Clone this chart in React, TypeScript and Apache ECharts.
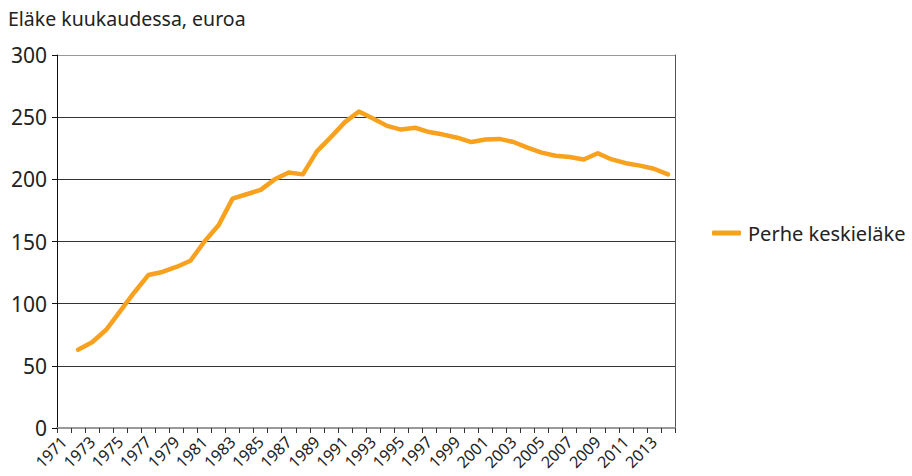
import React, { useEffect, useRef } from "react";
import * as echarts from "echarts";

const years: string[] = [];
for (let y = 1971; y <= 2014; y++) years.push(String(y));

const perheKeskielake: (number | null)[] = [
  null, 63, 69, 79, 94, 109, 123, 125.5, 129.5, 134.5,
  150, 163, 184.5, 188, 191.5, 200, 205.5, 204,
  222.5, 234, 246, 254.5, 249, 243, 240, 241.5,
  238, 236, 233.5, 230, 232, 232.5, 230, 225.5,
  221.5, 219, 218, 216, 221, 216, 213, 211, 208.5, 204,
];

const FONT = "'Noto Sans', 'DejaVu Sans', sans-serif";

export default function App() {
  const ref = useRef<HTMLDivElement>(null);
  useEffect(() => {
    if (!ref.current) return;
    const chart = echarts.init(ref.current, null, { renderer: "svg" });
    chart.setOption({
      animation: false,
      backgroundColor: "#ffffff",
      textStyle: { fontFamily: FONT },
      title: {
        text: "Eläke kuukaudessa, euroa",
        left: 3,
        top: 3,
        textStyle: { fontFamily: FONT, fontSize: 19.5, fontWeight: "normal", color: "#222" },
      },
      grid: { left: 57, right: 237, top: 55, bottom: 48, containLabel: false },
      legend: {
        data: ["Perhe keskieläke"],
        left: 707,
        top: 218,
        itemWidth: 29,
        itemHeight: 5,
        itemGap: 8,
        icon: "roundRect",
        textStyle: { fontFamily: FONT, fontSize: 20, color: "#222", padding: [0, 0, 0, 2] },
      },
      xAxis: {
        type: "category",
        data: years,
        boundaryGap: true,
        axisLine: { show: true, lineStyle: { color: "#999", width: 2 } },
        axisTick: { show: true, interval: 0, length: 5, lineStyle: { color: "#333" } },
        axisLabel: {
          interval: 1,
          rotate: 45,
          fontFamily: FONT,
          fontSize: 16,
          color: "#222",
          margin: 11,
        },
      },
      yAxis: [
        {
          type: "value",
          min: 0,
          max: 300,
          interval: 50,
          axisLine: { show: true, lineStyle: { color: "#111", width: 1 } },
          axisTick: { show: true, length: 5, lineStyle: { color: "#111" } },
          axisLabel: { fontFamily: FONT, fontSize: 21, color: "#222", margin: 10 },
          splitLine: {
            show: true,
            lineStyle: { color: ["#999", "#333", "#333", "#333", "#333", "#333", "#999"], width: 1 },
          },
        },
        {
          type: "value",
          position: "right",
          min: 0,
          max: 300,
          interval: 50,
          axisLine: { show: true, lineStyle: { color: "#555", width: 1 } },
          axisTick: { show: false },
          axisLabel: { show: false },
          splitLine: { show: false },
        },
      ],
      series: [
        {
          name: "Perhe keskieläke",
          type: "line",
          data: perheKeskielake,
          symbol: "none",
          itemStyle: { color: "#F7A11E" },
          lineStyle: { color: "#F7A11E", width: 4.5, cap: "round", join: "round" },
          connectNulls: false,
        },
      ],
    });
    return () => chart.dispose();
  }, []);
  return <div ref={ref} style={{ width: 912, height: 476, position: "absolute", left: 0, top: 0 }} />;
}
